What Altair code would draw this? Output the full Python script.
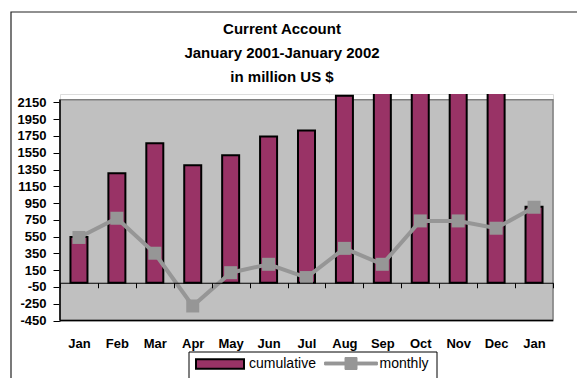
import altair as alt
import pandas as pd

# ---- data -------------------------------------------------------------
periods = ["Jan 2001", "Feb 2001", "Mar 2001", "Apr 2001", "May 2001", "Jun 2001",
           "Jul 2001", "Aug 2001", "Sep 2001", "Oct 2001", "Nov 2001", "Dec 2001",
           "Jan 2002"]
month_labels = ["Jan", "Feb", "Mar", "Apr", "May", "Jun", "Jul", "Aug", "Sep",
                "Oct", "Nov", "Dec", "Jan"]
cumulative = [545, 1306, 1664, 1401, 1520, 1742, 1814, 2228, 2448, 3185, 3922, 4572, 905]
monthly = [540, 769, 352, -277, 120, 220, 62, 410, 220, 737, 737, 650, 900]
y_tick_values = [-450, -250, -50, 150, 350, 550, 750, 950, 1150, 1350, 1550,
                 1750, 1950, 2150]
series_names = ["cumulative", "monthly"]
title_lines = ["Current Account", "January 2001-January 2002", "in million US $"]

BAR = "#993366"
GREY_LINE = "#969696"
PLOT_BG = "#C0C0C0"
FONT = "Liberation Sans"

df = pd.DataFrame({
    "period": periods,
    "label": month_labels,
    "cumulative": cumulative,
    "monthly": monthly,
    "s1": series_names[0],
    "s2": series_names[1],
})
one = pd.DataFrame({"k": [0]})

W, H = 493, 226.5
ydom = [-450, 2250]
yscale = alt.Scale(domain=ydom, nice=False, zero=False)
xscale = alt.Scale(paddingInner=0, paddingOuter=0)

x_axis = alt.Axis(
    title=None, labelExpr="split(datum.label, ' ')[0]", labelAngle=0,
    labelFont=FONT, labelFontSize=13, labelFontWeight="bold", labelColor="black",
    domainColor="black", domainWidth=1, tickColor="black", tickSize=5,
    tickWidth=1, tickBand="extent", offset=-37.75, labelPadding=50,
    grid=False, labelOverlap=False, zindex=1,
)
y_axis = alt.Axis(
    title=None, values=y_tick_values, domain=False, grid=False,
    labelExpr="'' + datum.value",
    labelOverlap=False, labelBound=False,
    labelFont=FONT, labelFontSize=13, labelFontWeight="bold",
    labelColor="black", tickColor="black", tickSize=7, labelPadding=7,
)

rect_path = "M-1,-0.2H1V0.2H-1Z"
line_sq_path = "M-1.1,-0.06H-0.25V-0.25H0.25V-0.06H1.1V0.06H0.25V0.25H-0.25V0.06H-1.1Z"

frame = alt.Chart(one).mark_rect(fill="white", fillOpacity=0, stroke="#222222",
                                 strokeWidth=1.2).encode(
    x=alt.value(-49), x2=alt.value(540), y=alt.value(-82), y2=alt.value(300))

title = alt.Chart(one).mark_text(
    text=title_lines, font=FONT, fontSize=15, fontWeight="bold", color="black",
    lineHeight=24, align="center", baseline="middle",
).encode(x=alt.value(222), y=alt.value(-65))

background = alt.Chart(one).mark_rect(fill=PLOT_BG, stroke="#808080",
                                      strokeWidth=1.5).encode(
    x=alt.value(0), x2=alt.value(W),
    y=alt.YDatum(-450, scale=yscale, axis=y_axis), y2=alt.datum(2180))

bars = alt.Chart(df).mark_bar(size=17, stroke="black", strokeWidth=2, clip=True).encode(
    x=alt.X("period:N", sort=periods, scale=xscale, axis=x_axis),
    y=alt.Y("cumulative:Q", scale=yscale, axis=y_axis),
    fill=alt.Fill("s1:N", scale=alt.Scale(domain=[series_names[0]], range=[BAR]),
                  legend=alt.Legend(title=None, orient="none", legendX=135, legendY=245,
                                    symbolType=rect_path, symbolSize=2304,
                                    symbolStrokeColor="black", symbolStrokeWidth=2,
                                    labelFont=FONT, labelFontSize=14, labelColor="black",
                                    labelOffset=4, padding=0)),
)

y_rule = alt.Chart(one).mark_rule(color="black", strokeWidth=1.5).encode(
    x=alt.value(0), y=alt.YDatum(-450, axis=y_axis), y2=alt.datum(2180))
bottom_rule = alt.Chart(one).mark_rule(color="black", strokeWidth=1.5).encode(
    x=alt.value(0), x2=alt.value(W), y=alt.YDatum(-450, axis=y_axis))

line = alt.Chart(df).mark_line(strokeWidth=4).encode(
    x=alt.X("period:N", sort=periods, scale=xscale, axis=x_axis),
    y=alt.Y("monthly:Q", scale=yscale, axis=y_axis),
    stroke=alt.Stroke("s2:N", scale=alt.Scale(domain=[series_names[1]], range=[GREY_LINE]),
                      legend=alt.Legend(title=None, orient="none", legendX=266.5, legendY=245,
                                        symbolType=line_sq_path, symbolSize=2304,
                                        symbolFillColor=GREY_LINE, symbolStrokeColor=GREY_LINE,
                                        symbolStrokeWidth=1,
                                        labelFont=FONT, labelFontSize=14, labelColor="black",
                                        labelOffset=4, padding=0)),
)

points = alt.Chart(df).mark_square(size=169, color=GREY_LINE, opacity=1).encode(
    x=alt.X("period:N", sort=periods, scale=xscale, axis=x_axis),
    y=alt.Y("monthly:Q", scale=yscale, axis=y_axis),
)

legend_box = alt.Chart(one).mark_rect(fill="white", stroke="black", strokeWidth=1).encode(
    x=alt.value(129), x2=alt.value(377), y=alt.value(258), y2=alt.value(300))

chart = alt.layer(frame, title, background, bars, y_rule, bottom_rule, line, points,
                  legend_box).properties(
    width=W, height=H,
    autosize=alt.AutoSizeParams(type="none"),
    padding={"left": 60, "top": 94, "right": 24, "bottom": 57.5},
).configure_view(stroke=None).configure(background="white")

chart.save("out.html", embed_options={"renderer": "svg", "actions": False})
